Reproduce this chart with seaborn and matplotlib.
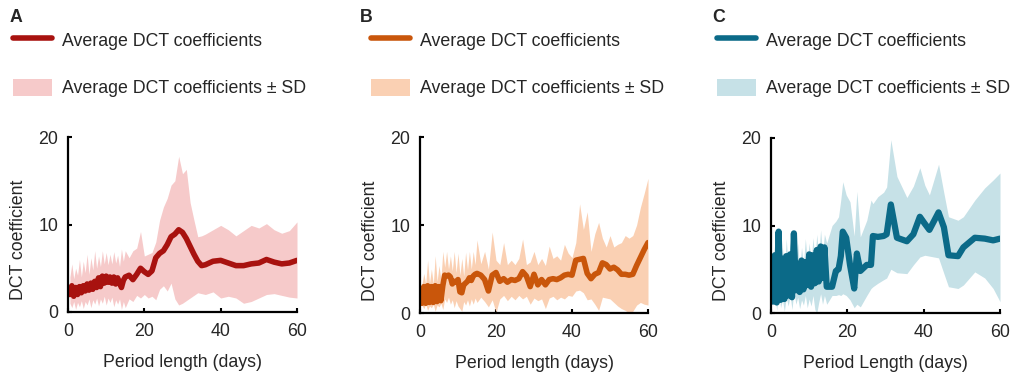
import numpy as np
import pandas as pd
import matplotlib
matplotlib.use('Agg')
import matplotlib.pyplot as plt
import seaborn as sns
from matplotlib.lines import Line2D
from matplotlib.patches import Patch

sns.set_style('ticks')
plt.rcParams['font.family'] = ['Liberation Sans', 'DejaVu Sans']
plt.rcParams['axes.unicode_minus'] = False

# ---- data ----
low_x = [0.5, 1, 1.5, 2, 2.5, 3, 3.5, 4, 4.5, 5, 5.5, 6, 6.5, 7, 7.5,
         8, 8.5, 9, 9.5, 10, 10.5, 11, 11.5, 12, 12.5, 13, 13.5, 14]

# panel A
period_a = low_x + [14.5, 15, 16, 17, 18, 19, 20, 21, 22, 23, 24, 25, 26, 27, 28, 29, 30,
                    31, 32, 33, 34, 35, 36, 38, 40, 42, 44, 46, 48, 50, 52, 54, 56, 58, 60]
mean_a = [2.0, 3.0, 1.8, 2.8, 2.0, 2.9, 2.2, 3.0, 2.4, 3.2, 2.5, 3.3, 2.6, 3.5, 2.8,
          3.9, 2.9, 4.1, 3.3, 4.1, 3.4, 4.0, 3.3, 4.0, 3.2, 3.9, 3.3, 2.8,
          3.6, 4.0, 4.2, 3.7, 4.3, 5.0, 4.6, 4.3, 4.7, 6.2, 6.7, 7.0, 7.7, 8.6, 8.9, 9.4, 9.1,
          8.4, 7.5, 6.6, 5.8, 5.3, 5.4, 5.8, 5.9, 5.6, 5.3, 5.3, 5.5, 5.6, 6.0, 5.7, 5.5, 5.6, 5.9]
hi_a = [4.0, 5.5, 3.8, 5.0, 4.2, 6.0, 4.0, 5.8, 4.5, 6.6, 4.3, 6.2, 4.8, 7.0, 5.0,
        6.4, 5.2, 7.0, 5.5, 6.8, 5.4, 6.6, 5.5, 6.9, 5.6, 6.5, 5.2, 7.2,
        5.8, 7.0, 6.2, 7.0, 7.3, 9.2, 6.4, 6.6, 6.8, 8.0, 10.5, 12.0, 13.0, 14.5, 15.0, 17.8, 15.8,
        16.3, 12.5, 10.5, 8.6, 8.7, 8.9, 9.4, 9.9, 9.4, 8.7, 9.3, 9.9, 9.6, 10.1, 9.4, 9.0, 9.3, 10.3]
lo_a = [1.0, 0.5, 1.2, 0.3, 1.1, 0.6, 1.3, 0.4, 1.2, 0.8, 1.5, 0.5, 1.4, 0.9, 1.6,
        0.7, 1.5, 1.0, 1.8, 0.8, 1.6, 1.1, 1.7, 0.6, 1.4, 0.9, 1.5, 0.3,
        1.2, 0.5, 1.5, 1.2, 1.9, 1.6, 2.0, 1.6, 1.8, 1.4, 2.6, 3.0, 2.4, 3.3, 1.5, 0.8, 1.0,
        1.3, 1.6, 1.9, 2.2, 2.1, 2.0, 2.3, 1.6, 1.8, 1.6, 1.0, 1.2, 1.6, 2.0, 2.1, 1.9, 1.7, 1.6]

# panel B
period_b = low_x + [14.5, 15, 16, 17, 18, 19, 20, 21, 22, 23, 24, 25, 26, 27, 28, 29, 30,
                    31, 32, 33, 34, 35, 36, 37, 38, 39, 40, 41, 42, 43, 44, 45, 46, 47,
                    48, 49, 50, 51, 52, 53, 54, 55, 56, 57, 58, 59, 60]
mean_b = [1.1, 3.0, 1.1, 3.1, 1.2, 3.0, 1.2, 3.1, 1.3, 3.0, 1.4, 3.1, 4.3, 4.2, 4.3,
          4.1, 3.3, 3.6, 3.5, 3.8, 2.4, 2.3, 3.2, 3.4, 3.6, 4.0, 3.7, 4.2,
          4.4, 4.5, 4.3, 3.8, 2.5, 4.3, 4.6, 3.6, 3.9, 3.5, 3.8, 3.7, 3.9, 4.7, 4.2, 3.0, 4.4,
          3.2, 3.8, 3.2, 3.8, 3.9, 3.8, 4.0, 4.3, 4.4, 4.3, 6.0, 6.1, 6.2, 4.5, 3.9, 4.4, 4.6,
          5.7, 5.5, 5.0, 5.2, 4.9, 4.4, 4.4, 4.3, 4.4, 5.4, 6.3, 7.2, 8.0]
hi_b = [3.2, 4.5, 3.3, 6.0, 3.4, 5.0, 3.3, 6.5, 3.6, 5.4, 3.8, 7.0, 5.2, 7.0, 5.0,
        6.5, 4.8, 7.0, 4.6, 6.8, 4.3, 6.2, 4.2, 6.9, 4.9, 7.0, 5.0, 7.0,
        5.5, 8.3, 5.6, 7.0, 5.0, 9.2, 6.0, 5.5, 8.0, 5.5, 6.0, 5.5, 6.2, 8.4, 5.5, 5.8, 7.0,
        5.5, 6.2, 5.4, 7.6, 6.2, 6.5, 6.0, 7.8, 6.8, 6.3, 8.0, 12.4, 9.5, 11.5, 7.0, 9.0, 10.3,
        8.5, 7.5, 8.8, 7.5, 7.8, 8.0, 8.8, 8.5, 8.8, 10.0, 12.0, 13.6, 15.3]
lo_b = [0.9, 0.5, 1.0, 0.3, 0.8, 0.6, 1.0, 0.2, 0.9, 0.7, 1.1, 0.4, 1.6, 1.2, 1.8,
        1.0, 1.5, 0.6, 1.4, 0.8, 0.5, 0.2, 1.3, 0.9, 1.5, 0.8, 1.6, 1.0,
        1.7, 1.2, 1.8, 1.3, 0.7, 1.5, 0.1, 1.6, 2.0, 1.4, 1.9, 1.5, 2.0, 1.6, 1.9, 1.0, 1.7,
        1.4, 1.6, 0.5, 1.7, 1.9, 1.5, 1.8, 1.6, 2.0, 1.9, 2.5, 2.6, 2.3, 1.5, 1.6, 1.0, 0.3,
        1.8, 1.7, 1.6, 1.2, 0.8, 0.5, 0.3, 0.0, 0.2, 0.9, 1.2, 1.0, 0.9]

# panel C
period_c = low_x + [14.6, 16, 17, 17.7, 18.3, 18.8, 19.7, 20.7, 21.8, 22.5, 23.4, 25.1, 26.2,
                    26.7, 28, 29.5, 30.3, 31.4, 33, 35.6, 37.3, 39, 40.3, 41.5, 43.9, 45.3,
                    46.5, 49, 50.4, 53.4, 56, 58.2, 60]
mean_c = [1.3, 6.6, 1.2, 9.3, 1.5, 6.2, 1.6, 6.5, 2.0, 6.7, 1.8, 9.1, 2.6, 5.6, 2.4,
          6.0, 2.7, 5.8, 3.2, 6.7, 3.0, 6.6, 3.4, 7.2, 3.6, 7.6, 4.0, 7.5,
          3.0, 3.0, 4.8, 5.0, 6.5, 9.3, 8.6, 5.5, 2.8, 6.8, 4.8, 5.5, 5.5,
          8.8, 8.7, 8.8, 9.0, 12.4, 8.6, 8.2, 9.0, 11.0, 10.2, 9.5, 11.5, 9.8,
          6.6, 6.5, 7.5, 8.6, 8.5, 8.3, 8.5]
hi_c = [6.0, 8.0, 4.0, 9.8, 4.5, 7.5, 4.5, 8.5, 5.0, 8.0, 4.8, 9.6, 5.5, 8.0, 5.0,
        7.5, 5.5, 8.5, 6.0, 8.0, 5.8, 8.6, 6.2, 9.0, 6.5, 9.5, 6.8, 9.0,
        8.0, 10.0, 10.5, 11.0, 13.0, 15.0, 13.5, 12.7, 8.8, 13.9, 8.7, 10.6, 12.9,
        12.5, 13.3, 13.8, 14.4, 19.8, 15.6, 13.2, 14.5, 16.6, 14.6, 13.5, 17.0, 13.7,
        11.0, 10.6, 11.0, 12.9, 14.3, 15.2, 16.0]
lo_c = [0.8, 2.0, 0.3, 3.0, 0.6, 1.5, 0.2, 1.8, 0.8, 2.0, 0.4, 2.5, 1.0, 1.8, 0.5,
        1.5, 0.9, 2.0, 0.6, 1.6, 0.8, 2.0, 0.4, 0.0, 1.2, 2.2, 1.0, 2.0,
        1.0, 2.0, 2.0, 2.1, 2.0, 2.2, 2.0, 1.5, 0.6, 1.0, 0.7, 2.0, 2.8,
        3.0, 3.4, 3.8, 4.0, 5.0, 4.6, 4.5, 5.5, 6.4, 6.6, 6.5, 6.3, 4.5,
        3.0, 2.8, 3.2, 4.7, 4.0, 2.8, 1.3]

panels = [
    ('A', period_a, mean_a, lo_a, hi_a, '#A8120F', '#F6CACA', 'Period length (days)'),
    ('B', period_b, mean_b, lo_b, hi_b, '#C9560B', '#FAD0B3', 'Period length (days)'),
    ('C', period_c, mean_c, lo_c, hi_c, '#0B6A88', '#C6E1E7', 'Period Length (days)'),
]

W, H = 1013, 373
fig = plt.figure(figsize=(W / 100, H / 100), dpi=100)

ax_px = [(68, 137, 229, 175), (420, 137, 228, 176), (771, 138, 229, 175)]
letter_px = [10, 360, 712]
legend_px = [13, 371, 717]
line_w = [4, 4, 4.5]
fs = 12.8

for (letter, px, mn, lo, hi, lc, fc, xlab), (l, t, w, h), lx, gx, lw in zip(
        panels, ax_px, letter_px, legend_px, line_w):
    ax = fig.add_axes([l / W, 1 - (t + h) / H, w / W, h / H])
    df = pd.DataFrame({'period': px, 'mean': mn, 'lo': lo, 'hi': hi})
    ax.fill_between(df['period'], df['lo'], df['hi'], color=fc, lw=0)
    sns.lineplot(data=df, x='period', y='mean', ax=ax, color=lc, lw=lw)
    ax.set_xlim(0, 60)
    ax.set_ylim(0, 20)
    ax.set_xticks([0, 20, 40, 60])
    ax.set_yticks([0, 10, 20])
    ax.tick_params(direction='in', length=3, width=1.5, labelsize=fs, color='black')
    ax.tick_params(axis='x', pad=8)
    ax.tick_params(axis='y', pad=7)
    sns.despine(ax=ax)
    for s in ['left', 'bottom']:
        ax.spines[s].set_linewidth(1.6)
        ax.spines[s].set_color('black')
    ax.set_xlabel(xlab, fontsize=fs)
    ax.set_ylabel('DCT coefficient', fontsize=fs)
    ax.xaxis.set_label_coords(0.5, -0.24)
    ax.yaxis.set_label_coords(-0.18, 0.41)

    fig.text(lx / W, 1 - 18 / H, letter, fontsize=fs, fontweight='bold', va='center', ha='left')
    handles = [Line2D([], [], color=lc, lw=4), Patch(facecolor=fc, edgecolor='none')]
    fig.legend(handles, ['Average DCT coefficients', 'Average DCT coefficients \u00b1 SD'],
               loc='upper left', bbox_to_anchor=(gx / W, 1 - 31 / H), frameon=False,
               fontsize=fs, handlelength=2.2, handleheight=1.1, handletextpad=0.55,
               labelspacing=1.65, borderpad=0, borderaxespad=0)

fig.savefig('out.png', dpi=100)
